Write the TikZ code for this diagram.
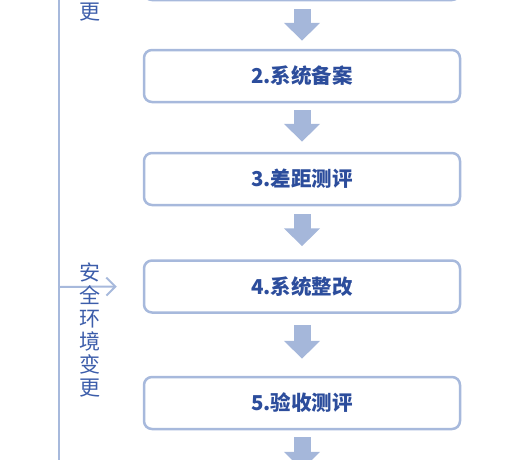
\documentclass[tikz,border=0pt]{standalone}
\usepackage{fontspec}
\setmainfont{Noto Sans CJK SC}
\usetikzlibrary{arrows.meta}

\definecolor{boxline}{HTML}{A7B9DC}
\definecolor{arrowfill}{HTML}{A5B7DA}
\definecolor{stepblue}{HTML}{2C4D9C}
\definecolor{sideblue}{HTML}{3C5DAA}

\tikzset{
  stepbox/.style={draw=boxline, line width=2.5pt, rounded corners=8pt, fill=white,
    minimum width=316pt, minimum height=52pt, inner sep=0pt,
    text=stepblue, font=\fontsize{20.5}{24}\selectfont\bfseries},
  blockarr/.style={line width=17pt, color=arrowfill,
    -{Triangle[width=35pt,length=18pt]}},
  sidetext/.style={text=sideblue, align=center, inner sep=0pt,
    font=\fontsize{21}{23}\selectfont}
}

\begin{document}
\begin{tikzpicture}[x=1pt,y=-1pt]
    \useasboundingbox (0,0) rectangle (526,459);
    \clip (0,0) rectangle (526,459);

    % left side line and arrow
    \draw[boxline, line width=2.5pt] (59,-5) -- (59,465);

    % steps
    \node[stepbox] (b1) at (302,-26) {};
    \node[stepbox] (b2) at (302,76) {2.系统备案};
    \node[stepbox] (b3) at (302,179) {3.差距测评};
    \node[stepbox] (b4) at (302,286.5) {4.系统整改};
    \node[stepbox] (b5) at (302,403) {5.验收测评};
    \node[stepbox] (b6) at (302,506) {};

    \coordinate (side) at (59,287);
    \draw[boxline, line width=2pt, -{Straight Barb[length=9pt,width=18pt]}]
      (side) -- ([xshift=-26pt]b4.west);

    % block arrows
    \draw[blockarr] ([yshift=-8pt]b1.south) -- ([yshift=8pt]b2.north);
    \draw[blockarr] ([yshift=-7pt]b2.south) -- ([yshift=10pt]b3.north);
    \draw[blockarr] ([yshift=-8pt]b3.south) -- ([yshift=13pt]b4.north);
    \draw[blockarr] ([yshift=-11pt]b4.south) -- ([yshift=17pt]b5.north);
    \draw[blockarr] ([yshift=-7pt]b5.south) -- ([yshift=9pt]b6.north);

    % side labels
    \node[sidetext] (chg0) at (90,12) {更};
    \node[sidetext] (chg1) at (90,329.5) {安\\全\\环\\境\\变\\更};
\end{tikzpicture}
\end{document}
